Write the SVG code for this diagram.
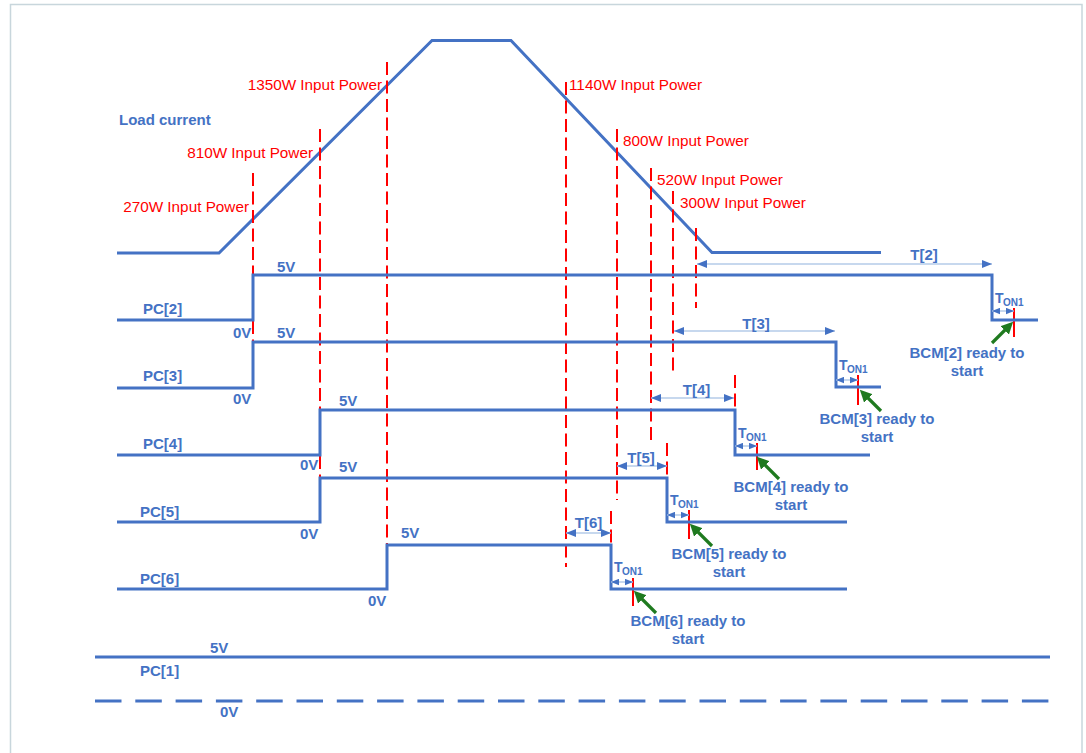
<svg xmlns="http://www.w3.org/2000/svg" width="1086" height="753" viewBox="0 0 1086 753">
<style>
.wave{fill:none;stroke:#4472c4;stroke-width:3;stroke-linejoin:miter}
.red{stroke:#ff0000;stroke-width:2;stroke-dasharray:13 5.5;fill:none}
.redm{stroke:#ff0000;stroke-width:2;fill:none}
.tarr{stroke:#b4cbe8;stroke-width:1.5;fill:none;marker-start:url(#ah);marker-end:url(#ah)}
.tonarr{stroke:#b4cbe8;stroke-width:1.5;fill:none;marker-start:url(#ahs);marker-end:url(#ahs)}
.garr{stroke:#1f7a1f;stroke-width:3.2;fill:none;marker-end:url(#gh)}
.rt{font-family:"Liberation Sans",Arial,sans-serif;font-size:15.3px;fill:#ff0000}
.bt{font-family:"Liberation Sans",Arial,sans-serif;font-size:15px;font-weight:bold;fill:#4472c4}
.tt{font-family:"Liberation Sans",Arial,sans-serif;font-size:14px;font-weight:bold;fill:#4472c4}
.st{font-family:"Liberation Sans",Arial,sans-serif;font-size:10px;font-weight:bold;fill:#4472c4}
</style>
<defs>
<marker id="ah" viewBox="0 0 10 8" refX="10" refY="4" markerWidth="10" markerHeight="8" orient="auto-start-reverse" markerUnits="userSpaceOnUse"><path d="M0,0 L10,4 L0,8 z" fill="#4472c4"/></marker>
<marker id="ahs" viewBox="0 0 10 8" refX="10" refY="4" markerWidth="8" markerHeight="7" orient="auto-start-reverse" markerUnits="userSpaceOnUse"><path d="M0,0 L10,4 L0,8 z" fill="#4472c4"/></marker>
<marker id="gh" viewBox="0 0 10 10" refX="4.5" refY="5" markerWidth="12" markerHeight="12" orient="auto" markerUnits="userSpaceOnUse"><path d="M0,0 L10,5 L0,10 z" fill="#1f7a1f"/></marker>
</defs>
<rect x="10.5" y="4.5" width="1071.5" height="770" fill="#ffffff" stroke="#c8d6dc" stroke-width="1.5"/>

<g id="load-current">
<path class="wave" d="M117,253 L219,253 L432,40.5 L511,40.5 L712,252.5 L881,252.5"/>
<text class="bt" x="119" y="124.5">Load current</text>
</g>

<g id="power-labels">
<text class="rt" x="249" y="211.5" text-anchor="end">270W Input Power</text>
<text class="rt" x="313" y="157.5" text-anchor="end">810W Input Power</text>
<text class="rt" x="382" y="89.5" text-anchor="end">1350W Input Power</text>
<text class="rt" x="569" y="89.5">1140W Input Power</text>
<text class="rt" x="623" y="145.5">800W Input Power</text>
<text class="rt" x="657" y="184.5">520W Input Power</text>
<text class="rt" x="680" y="207.5">300W Input Power</text>
</g>

<g id="red-markers">
<path class="red" d="M253,173 V276 M253,321 V342"/>
<path class="red" d="M320,129 V410 M320,456 V478"/>
<path class="red" d="M387,62 V545"/>
<path class="red" d="M566,82 V567"/>
<path class="red" d="M617,129 V500"/>
<path class="red" d="M651,168 V443"/>
<path class="red" d="M673,191 V375"/>
<path class="red" d="M696,228 V308"/>
<path class="red" d="M735,375 V410"/>
<path class="red" d="M667,443 V478"/>
<path class="red" d="M611,511 V545"/>
<path class="redm" d="M1014,308 V337"/>
<path class="redm" d="M858,375 V405"/>
<path class="redm" d="M757,443 V470"/>
<path class="redm" d="M689,510 V539"/>
<path class="redm" d="M633,578 V606"/>
</g>

<g id="pc2">
<path class="wave" d="M117,320 H253 V275 H992 V320 H1038"/>
<text class="bt" x="143" y="313.5">PC[2]</text>
<text class="bt" x="233" y="337.5">0V</text>
<text class="bt" x="277" y="271.5">5V</text>
</g>
<g id="pc3">
<path class="wave" d="M117,388 H253 V342 H836 V387 H881"/>
<text class="bt" x="143" y="380.5">PC[3]</text>
<text class="bt" x="233" y="403.5">0V</text>
<text class="bt" x="277" y="337.5">5V</text>
</g>
<g id="pc4">
<path class="wave" d="M117,455 H320 V410 H735 V455 H870"/>
<text class="bt" x="143" y="448.5">PC[4]</text>
<text class="bt" x="300" y="469.5">0V</text>
<text class="bt" x="339" y="405.5">5V</text>
</g>
<g id="pc5">
<path class="wave" d="M117,522 H320 V478 H667 V522 H847"/>
<text class="bt" x="140" y="516.5">PC[5]</text>
<text class="bt" x="300" y="538.5">0V</text>
<text class="bt" x="339" y="471.5">5V</text>
</g>
<g id="pc6">
<path class="wave" d="M117,589 H387 V545 H611 V589 H847"/>
<text class="bt" x="140" y="583.5">PC[6]</text>
<text class="bt" x="368" y="605.5">0V</text>
<text class="bt" x="401" y="537.5">5V</text>
</g>
<g id="pc1">
<path class="wave" d="M95,657 H1050"/>
<path class="wave" d="M95,701 H1050" stroke-dasharray="26.5 13.8"/>
<text class="bt" x="210" y="652.5">5V</text>
<text class="bt" x="140" y="675.5">PC[1]</text>
<text class="bt" x="220" y="716.5">0V</text>
</g>

<g id="connectors">
<path class="tarr" d="M697,264 H992"/>
<path class="tarr" d="M674,331 H835"/>
<path class="tarr" d="M651,398 H734"/>
<path class="tarr" d="M617,466 H667"/>
<path class="tarr" d="M566,533 H611"/>
<path class="tonarr" d="M992,311 H1014"/>
<path class="tonarr" d="M836,380 H858"/>
<path class="tonarr" d="M735,446 H757"/>
<path class="tonarr" d="M667,515 H689"/>
<path class="tonarr" d="M611,582 H633"/>
<path class="garr" d="M992,343 L1008.5,326.5"/>
<path class="garr" d="M881,411 L864.5,394.5"/>
<path class="garr" d="M779,479 L761.5,461.5"/>
<path class="garr" d="M712,546 L694.5,528.5"/>
<path class="garr" d="M656,613 L638.5,595.5"/>
</g>

<g id="t-labels">
<text class="bt" x="924" y="259.5" text-anchor="middle">T[2]</text>
<text class="bt" x="756" y="328.5" text-anchor="middle">T[3]</text>
<text class="bt" x="696.5" y="394.5" text-anchor="middle">T[4]</text>
<text class="bt" x="641" y="462.5" text-anchor="middle">T[5]</text>
<text class="bt" x="588.5" y="527.5" text-anchor="middle">T[6]</text>
</g>

<g id="ton-labels">
<text class="tt" x="995" y="303">T<tspan class="st" x="1003" y="306">ON1</tspan></text>
<text class="tt" x="839" y="370">T<tspan class="st" x="847" y="373">ON1</tspan></text>
<text class="tt" x="738" y="438">T<tspan class="st" x="746" y="441">ON1</tspan></text>
<text class="tt" x="670" y="505">T<tspan class="st" x="678" y="508">ON1</tspan></text>
<text class="tt" x="614" y="572">T<tspan class="st" x="622" y="575">ON1</tspan></text>
</g>

<g id="bcm-labels">
<text class="bt" text-anchor="middle"><tspan x="967" y="357.5">BCM[2] ready to</tspan><tspan x="967" y="375.5">start</tspan></text>
<text class="bt" text-anchor="middle"><tspan x="877" y="423.5">BCM[3] ready to</tspan><tspan x="877" y="441.5">start</tspan></text>
<text class="bt" text-anchor="middle"><tspan x="791" y="491.5">BCM[4] ready to</tspan><tspan x="791" y="509.5">start</tspan></text>
<text class="bt" text-anchor="middle"><tspan x="729" y="558.5">BCM[5] ready to</tspan><tspan x="729" y="577">start</tspan></text>
<text class="bt" text-anchor="middle"><tspan x="688" y="625.5">BCM[6] ready to</tspan><tspan x="688" y="643.5">start</tspan></text>
</g>
</svg>
